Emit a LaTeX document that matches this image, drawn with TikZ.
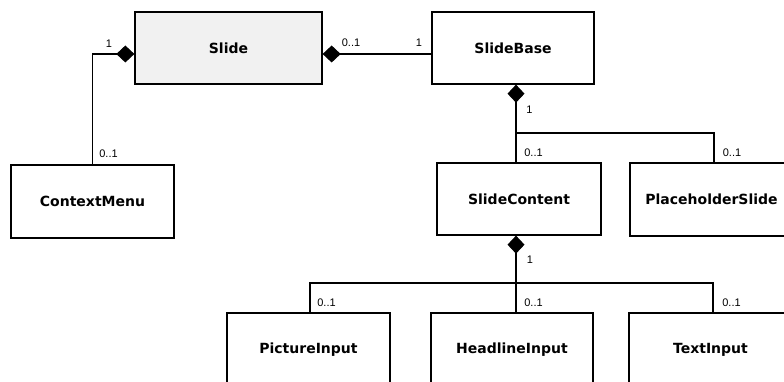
\documentclass[tikz,border=0pt]{standalone}
\usepackage{fontspec}
\setmainfont{DejaVu Sans}
\newfontfamily\labelfont{Liberation Sans}
\usetikzlibrary{arrows.meta}
\definecolor{classfill}{RGB}{241,241,241}
\tikzset{
  classbox/.style={draw=black, line width=1.3pt, fill=white, inner sep=0pt,
    minimum width=163pt, minimum height=73pt,
    font=\fontsize{14}{16}\selectfont\bfseries},
  comp/.style={line width=1.2pt, {Diamond[length=18pt,width=17pt]}-},
  assoc/.style={line width=1.2pt},
  mult/.style={inner sep=0pt, font=\labelfont\fontsize{11}{13}\selectfont}
}
\begin{document}
\begin{tikzpicture}[x=1pt, y=-1pt]
  \useasboundingbox (0,0) rectangle (784,382);

  % classes
  \node[classbox, fill=classfill, minimum width=187pt, minimum height=72pt] (slide) at (228.5,48) {Slide};
  \node[classbox, minimum width=162pt, minimum height=72pt] (base) at (513,48) {SlideBase};
  \node[classbox] (menu) at (92.5,201.5) {ContextMenu};
  \node[classbox, minimum width=164pt, minimum height=72pt] (content) at (519,199) {SlideContent};
  \node[classbox] (placeholder) at (711.5,199.5) {PlaceholderSlide};
  \node[classbox] (picture) at (308.5,349.5) {PictureInput};
  \node[classbox, minimum width=162pt] (headline) at (512,349.5) {HeadlineInput};
  \node[classbox] (textin) at (710.5,349.5) {TextInput};

  % routing points
  \coordinate (row) at (0,54);
  \coordinate (ja) at (516,133);
  \coordinate (jb) at (714,133);
  \coordinate (jc) at (516,283);
  \coordinate (jd) at (310,283);
  \coordinate (je) at (713,283);

  % compositions
  \draw[comp] (slide.west |- row) -| (menu.north);
  \draw[comp] (slide.east |- row) -- (base.west |- row);
  \draw[comp] (base.south -| ja) -- (content.north -| ja);
  \draw[assoc] (ja) -- (jb) -- (placeholder.north -| jb);
  \draw[comp] (content.south -| jc) -- (headline.north -| jc);
  \draw[assoc] (picture.north -| jd) -- (jd) -- (je) -- (textin.north -| je);

  % multiplicities
  \node[mult] (m1) at (109,44) {1};
  \node[mult] (m2) at (108.5,154) {0..1};
  \node[mult] (m3) at (351,43) {0..1};
  \node[mult] (m4) at (419,43) {1};
  \node[mult] (m5) at (529.5,110) {1};
  \node[mult] (m6) at (533.5,152.5) {0..1};
  \node[mult] (m7) at (732,152.5) {0..1};
  \node[mult] (m8) at (530,260) {1};
  \node[mult] (m9) at (326.5,303) {0..1};
  \node[mult] (m10) at (533.5,302.5) {0..1};
  \node[mult] (m11) at (731.5,302.5) {0..1};
\end{tikzpicture}
\end{document}
